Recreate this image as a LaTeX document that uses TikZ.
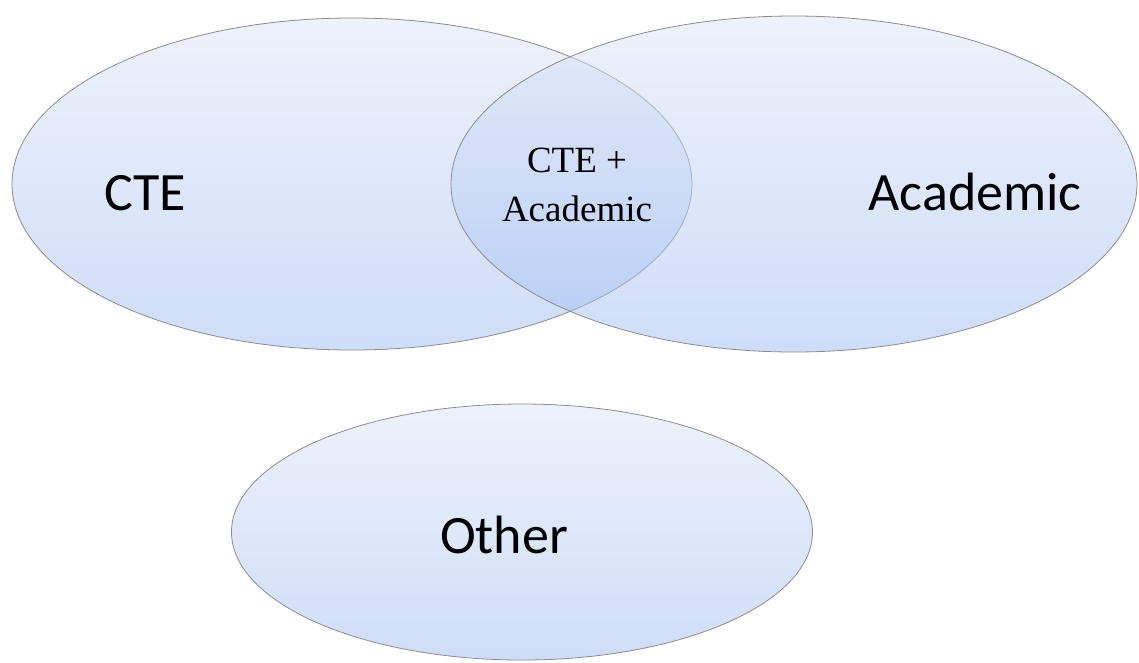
\documentclass[tikz,border=0pt]{standalone}
\usepackage{fontspec}
\setmainfont{Liberation Serif}
\newfontfamily\setfont{Carlito}
\usetikzlibrary{shapes.geometric, positioning}

\definecolor{setTop}{RGB}{221,229,247}
\definecolor{setBottom}{RGB}{158,188,242}
\definecolor{setLine}{RGB}{140,140,145}

\tikzset{
    set/.style={ellipse, draw=setLine, line width=0.8pt, inner sep=0pt,
        top color=setTop, bottom color=setBottom, fill opacity=0.5, draw opacity=1},
    setname/.style={anchor=base, font=\setfont\fontsize{54}{60}\selectfont},
}

\begin{document}
\begin{tikzpicture}[x=1pt, y=-1pt]
        \useasboundingbox (0,0) rectangle (1139,662);
        % Define the sets
        \node[set, minimum width=680pt, minimum height=332pt] (cte) at (352,184) {};
        \node[set, minimum width=686pt, minimum height=336pt] (acad) at (794,184) {};
        \node[set, minimum width=581pt, minimum height=256pt] (other) at (522,532) {};
        % Define the labels
        \node[setname] (cte_lbl) at (145,210) {CTE};
        \node[setname] (acad_lbl) at (975,210) {Academic};
        \node[setname] (other_lbl) at (504,553) {Other};
        \node[align=center, font=\fontsize{37}{49}\selectfont] (both_lbl) at (577,185) {CTE +\\Academic};
    \end{tikzpicture}
\end{document}
